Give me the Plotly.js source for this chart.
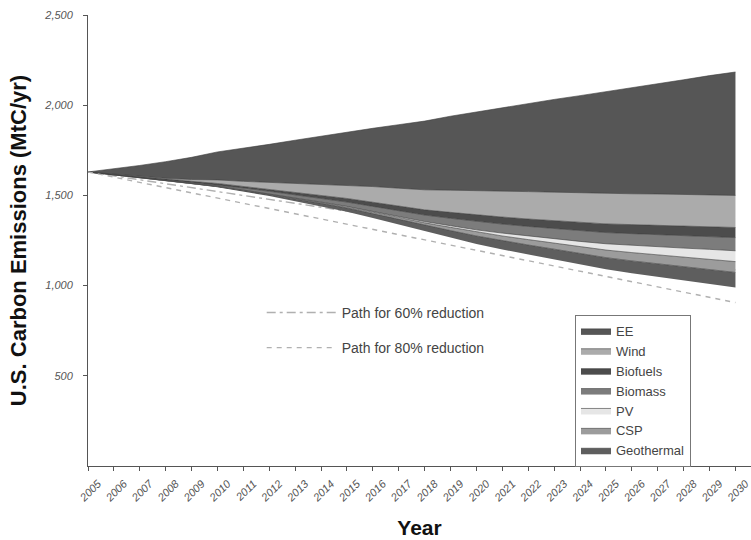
<!DOCTYPE html>
<html>
<head>
<meta charset="utf-8">
<script src="https://cdn.plot.ly/plotly-3.0.1.min.js"></script>
<style>
  html, body { margin: 0; padding: 0; background: #ffffff; }
  #chart { width: 751px; height: 540px; }
</style>
</head>
<body>
<div id="chart"></div>
<script>
// ---- Data (MtC/yr) ----
const years = [2005, 2006, 2007, 2008, 2009, 2010, 2011, 2012, 2013, 2014, 2015, 2016, 2017,
               2018, 2019, 2020, 2021, 2022, 2023, 2024, 2025, 2026, 2027, 2028, 2029, 2030];

// emissions remaining after all wedges (bottom, unfilled)
const remaining = [1630, 1614, 1598, 1580, 1563, 1545, 1521, 1496, 1468, 1440, 1410, 1375, 1338,
                   1300, 1265, 1230, 1200, 1172, 1145, 1117, 1090, 1068, 1048, 1028, 1009, 990];

const geothermal = [0, 0, 1, 2, 3, 4, 6, 9, 12, 16, 20, 24, 29, 34, 40, 45, 49, 53, 57, 61, 65, 69, 73, 76, 80, 83];
const csp        = [0, 0, 0, 0, 1, 1, 2, 3, 4, 5, 6, 8, 11, 14, 18, 22, 26, 30, 34, 38, 42, 46, 50, 54, 57, 60];
const pv         = [0, 0, 0, 0, 0, 1, 1, 1, 2, 2, 3, 4, 5, 7, 9, 12, 16, 20, 24, 29, 35, 40, 45, 50, 55, 60];
const biomass    = [0, 1, 2, 4, 6, 8, 11, 14, 17, 21, 24, 28, 32, 36, 41, 46, 50, 53, 56, 59, 62, 65, 67, 69, 71, 73];
const biofuels   = [0, 1, 2, 3, 5, 7, 9, 11, 14, 17, 20, 23, 26, 29, 33, 36, 39, 41, 43, 46, 48, 50, 52, 53, 55, 56];
const wind       = [0, 1, 3, 6, 10, 20, 28, 38, 50, 62, 75, 87, 99, 111, 123, 134, 144, 152, 159, 164, 168, 171, 173, 175, 177, 178];
const ee         = [0, 30, 60, 92, 123, 155, 183, 211, 239, 266, 294, 323, 352, 381, 410, 438, 463, 489, 514, 539, 564, 588, 612, 636, 660, 684];

// reduction paths
const path60 = [1630, 1608, 1587, 1565, 1543, 1521, 1500, 1478, 1456, 1434, 1413, 1391, 1369,
                1347, 1326, 1304, 1282, 1261, 1239, 1217, 1196, 1174, 1152, 1130, 1109, 1087];
const path80 = [1630, 1601, 1572, 1543, 1514, 1485, 1456, 1427, 1398, 1369, 1340, 1311, 1282,
                1253, 1224, 1195, 1166, 1138, 1109, 1080, 1051, 1022, 993, 964, 935, 906];

const yTicks = [500, 1000, 1500, 2000, 2500];

// ---- Traces ----
const FONT = 'Liberation Sans, Arial, sans-serif';
const edge = { color: '#3a3a3a', width: 0.6 };

function band(name, vals, fill) {
  return {
    type: 'scatter', mode: 'lines', name: name, x: years, y: vals,
    stackgroup: 'wedges', line: edge, fillcolor: fill, legend: 'legend',
    hoverinfo: 'x+y+name'
  };
}

const traces = [
  { type: 'scatter', mode: 'lines', name: 'Path for 60% reduction', x: years, y: path60,
    line: { color: '#b0b0b0', width: 1.4, dash: '9px,4px,3px,4px' }, legend: 'legend2', legendgroup: 'p60' },
  { type: 'scatter', mode: 'lines', name: 'remaining', x: years, y: remaining,
    stackgroup: 'wedges', line: { width: 0, color: 'rgba(0,0,0,0)' }, fillcolor: 'rgba(0,0,0,0)',
    showlegend: false, hoverinfo: 'skip' },
  band('Geothermal', geothermal, '#5e5e5e'),
  band('CSP', csp, '#9c9c9c'),
  band('PV', pv, '#e6e6e6'),
  band('Biomass', biomass, '#7c7c7c'),
  band('Biofuels', biofuels, '#4c4c4c'),
  band('Wind', wind, '#ababab'),
  band('EE', ee, '#565656'),
  { type: 'scatter', mode: 'lines', name: 'Path for 80% reduction', x: years, y: path80,
    line: { color: '#b0b0b0', width: 1.4, dash: '5px,5px' }, legend: 'legend2', legendgroup: 'p80' }
];

const layout = {
  width: 751, height: 540,
  margin: { l: 88, r: 0, t: 15, b: 74 },
  paper_bgcolor: '#ffffff', plot_bgcolor: '#ffffff',
  font: { family: FONT, color: '#333333' },
  showlegend: true,
  xaxis: {
    range: [2005, 2030.6],
    tickvals: years, ticktext: years.map(String),
    tickangle: -45, ticks: 'outside', ticklen: 4, tickcolor: '#555',
    ticklabelshift: 10, ticklabelstandoff: 2, ticklabeloverflow: 'allow',
    tickfont: { family: FONT, size: 11, color: '#555', style: 'italic' },
    showline: true, linecolor: '#555', linewidth: 1,
    showgrid: false, zeroline: false,
    title: { text: 'Year', font: { family: FONT, size: 21, color: '#111', weight: 'bold' }, standoff: 17 }
  },
  yaxis: {
    range: [0, 2500],
    tickvals: yTicks, tickformat: ',',
    ticks: 'outside', ticklen: 4, tickcolor: '#555',
    tickfont: { family: FONT, size: 11, color: '#555', style: 'italic' },
    ticklabelstandoff: 8,
    showline: true, linecolor: '#555', linewidth: 1,
    showgrid: false, zeroline: false,
    title: { text: 'U.S. Carbon Emissions (MtC/yr)', font: { family: FONT, size: 22, color: '#111', weight: 'bold' }, standoff: 11 }
  },
  legend: {
    x: 0.7345, y: 0.335, xanchor: 'left', yanchor: 'top',
    traceorder: 'reversed',
    bgcolor: '#ffffff', bordercolor: '#777', borderwidth: 1,
    font: { family: FONT, size: 13, color: '#444' },
    itemwidth: 30, tracegroupgap: 0
  },
  legend2: {
    x: 0.262, y: 0.375, xanchor: 'left', yanchor: 'top',
    traceorder: 'grouped',
    bgcolor: 'rgba(0,0,0,0)', borderwidth: 0,
    font: { family: FONT, size: 14, color: '#444' },
    itemwidth: 70, tracegroupgap: 14
  }
};

Plotly.newPlot('chart', traces, layout, { displayModeBar: false, staticPlot: true });
</script>
</body>
</html>
